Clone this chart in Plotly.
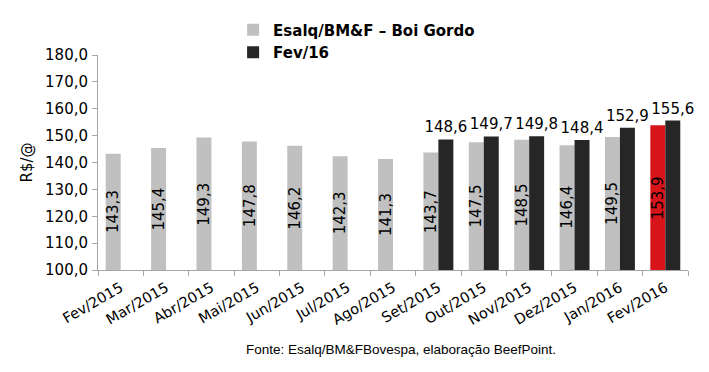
import plotly.graph_objects as go

categories = ["Fev/2015", "Mar/2015", "Abr/2015", "Mai/2015", "Jun/2015", "Jul/2015",
              "Ago/2015", "Set/2015", "Out/2015", "Nov/2015", "Dez/2015", "Jan/2016", "Fev/2016"]
esalq = [143.3, 145.4, 149.3, 147.8, 146.2, 142.3, 141.3, 143.7, 147.5, 148.5, 146.4, 149.5, 153.9]
fev16 = [None, None, None, None, None, None, None, 148.6, 149.7, 149.8, 148.4, 152.9, 155.6]
y_min, y_max = 100, 180

def fmt(v):
    return "" if v is None else f"{v:.1f}".replace(".", ",")

gray = "#C0C0C0"
dark = "#262626"
red = "#D7141A"
esalq_colors = [gray] * (len(esalq) - 1) + [red]

font_main = "DejaVu Sans, Verdana, sans-serif"

# plot geometry (pixels)
plot_w = 590
bargap = 0.34
cat_w = plot_w / len(categories)
bar_w = cat_w * (1 - bargap) / 2
gray_shift = -bar_w / 2

fig = go.Figure()
fig.add_trace(go.Bar(
    x=categories, y=esalq, name="Esalq/BM&F – Boi Gordo",
    marker=dict(color=esalq_colors, line=dict(width=0)),
))
fig.add_trace(go.Bar(
    x=categories, y=fev16, name="Fev/16",
    marker=dict(color=dark, line=dict(width=0)),
    text=[fmt(v) for v in fev16], textposition="outside",
    textangle=0, outsidetextfont=dict(family=font_main, size=15, color="black"),
    constraintext="none", cliponaxis=False,
))

annotations = [
    dict(x=c, y=(y_min + v) / 2, xref="x", yref="y", text=fmt(v), textangle=-90,
         showarrow=False, xshift=gray_shift, xanchor="center", yanchor="middle",
         font=dict(family=font_main, size=15, color="black"))
    for c, v in zip(categories, esalq)
]
annotations.append(dict(text="Fonte: Esalq/BM&FBovespa, elaboração BeefPoint.",
                        xref="paper", yref="paper", x=0.514, y=-0.372,
                        xanchor="center", yanchor="middle", showarrow=False,
                        font=dict(family="Liberation Sans, Arial, sans-serif", size=13.5, color="black")))

fig.update_layout(
    width=701, height=364,
    margin=dict(l=90, r=21, t=47, b=102, autoexpand=False),
    plot_bgcolor="white", paper_bgcolor="white",
    barmode="group", bargap=bargap, bargroupgap=0,
    separators=",.",
    font=dict(family=font_main, size=15, color="black"),
    showlegend=True,
    legend=dict(x=0.229, y=1.193, xanchor="left", yanchor="top",
                font=dict(family=font_main, size=15, color="black", weight="bold"),
                bgcolor="rgba(0,0,0,0)", tracegroupgap=0, itemwidth=30),
    xaxis=dict(type="category", tickson="boundaries", ticks="outside", ticklen=5,
               tickcolor="#A6A6A6", showline=True, linecolor="#A6A6A6", linewidth=1,
               tickangle=-30, tickfont=dict(size=14.5), showgrid=False,
               ticklabelstandoff=3),
    yaxis=dict(range=[y_min, y_max], dtick=10, tickformat=".1f", ticks="outside", ticklen=5,
               tickcolor="#A6A6A6", showline=True, linecolor="#A6A6A6", linewidth=1,
               showgrid=False, zeroline=False, tickfont=dict(size=15),
               ticklabelstandoff=1,
               title=dict(text="R$/@", font=dict(size=15), standoff=8)),
    annotations=annotations,
)

fig.write_html("out.html")
